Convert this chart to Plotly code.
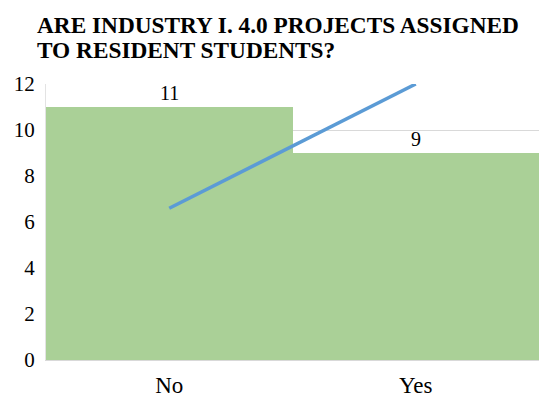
import plotly.graph_objects as go

categories = ["No", "Yes"]
bar_values = [11, 9]
line_values = [6.6, 12]
y_ticks = [0, 2, 4, 6, 8, 10, 12]
title_lines = ["ARE INDUSTRY I. 4.0 PROJECTS ASSIGNED", "TO RESIDENT STUDENTS?"]

serif = "Liberation Serif, Times New Roman, serif"

fig = go.Figure()
fig.add_trace(go.Bar(
    x=categories, y=bar_values,
    text=[str(v) for v in bar_values], textposition="outside",
    textfont=dict(family=serif, size=20, color="#000000"),
    marker=dict(color="#aad097", line=dict(width=0)),
    cliponaxis=False, showlegend=False,
))
fig.add_trace(go.Scatter(
    x=categories, y=line_values, mode="lines",
    line=dict(color="#5b9bd5", width=3.5), showlegend=False,
))

plot_top, plot_bottom = 84, 360
plot_h = plot_bottom - plot_top
for i, (line, ypx) in enumerate(zip(title_lines, [25, 50])):
    fig.add_annotation(
        text="<b>" + line + "</b>", xref="paper", yref="paper",
        x=(35 - 46) / 493, xanchor="left",
        y=1 + (plot_top - ypx) / plot_h, yanchor="middle",
        showarrow=False, font=dict(family=serif, size=23.3, color="#000000"),
    )

fig.update_layout(
    width=539, height=398,
    margin=dict(l=46, r=0, t=84, b=38),
    paper_bgcolor="white", plot_bgcolor="white",
    bargap=0,
    xaxis=dict(tickfont=dict(family=serif, size=23, color="#000000"),
               showline=True, linecolor="#d9d9d9", ticks="", range=[-0.5, 1.5],
               ticklabelstandoff=4, automargin=False),
    yaxis=dict(range=[0, 12], tickvals=y_ticks, tickfont=dict(family=serif, size=21, color="#000000"),
               showgrid=True, gridcolor="#d9d9d9", gridwidth=1, zeroline=False,
               showline=True, linecolor="#e3e3e3", automargin=False,
               ticks="", ticklabelstandoff=6),
)
fig.write_html("out.html")
